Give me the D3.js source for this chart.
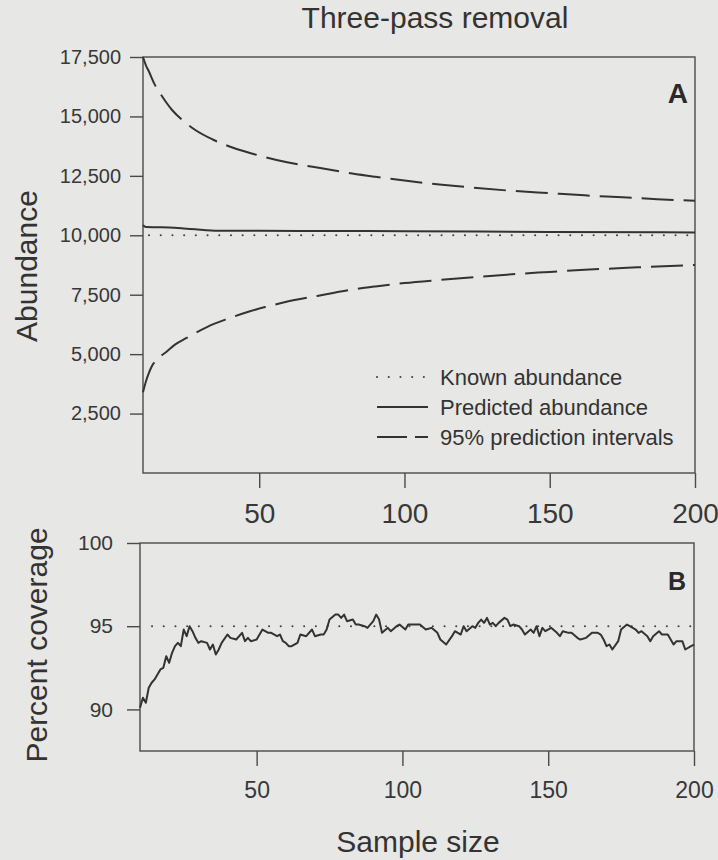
<!DOCTYPE html>
<html>
<head>
<meta charset="utf-8">
<script src="https://cdn.jsdelivr.net/npm/d3@7"></script>
<style>
  body { margin: 0; background: #e7e7e5; }
  svg { display: block; font-family: "Liberation Sans", Arial, sans-serif; }
  .axis path { display: none; }
  .axis line { stroke: #4a4a4a; stroke-width: 1.4px; }
  .axis text { fill: #383838; }
</style>
</head>
<body>
<div id="chart"></div>
<script>
// DATA

// panel A - abundance
var knownAbundance = 10000;

var predN   = [10, 11, 15, 19, 24, 28, 36, 50, 75, 100, 150, 200];
var predAbd = [10420, 10350, 10340, 10330, 10290, 10250, 10190, 10190, 10180, 10170, 10140, 10120];

var upperN   = [10, 11, 12, 14, 16, 20, 24, 28, 34, 41, 48, 56, 64, 71, 82, 90, 100, 112, 125, 137, 150, 162, 175, 187, 200];
var upperAbd = [17500, 17150, 16900, 16350, 15950, 15270, 14800, 14430, 14030, 13680, 13420, 13170, 12970, 12830, 12600, 12460, 12300, 12140, 11990, 11870, 11770, 11680, 11600, 11520, 11450];

var lowerN   = [10, 11, 12, 13, 15, 18, 21, 25, 32, 39, 46, 52, 59, 70, 81, 90, 100, 112, 125, 137, 150, 162, 175, 187, 200];
var lowerAbd = [3400, 3850, 4200, 4480, 4800, 5090, 5400, 5680, 6140, 6480, 6770, 6980, 7190, 7450, 7700, 7850, 7990, 8120, 8250, 8360, 8460, 8550, 8620, 8690, 8750];

// panel B - percent coverage
var knownCoverage = 95;

var covN = [10, 11, 12, 13, 14, 15, 16, 17, 18, 19, 20, 21, 22, 23, 24, 25, 26, 27, 28, 29,
    30, 31, 33, 34, 35, 36, 37, 38, 40, 41, 43, 45, 46, 47, 48, 50, 52, 54, 55, 57,
    58, 59, 60, 61, 62, 64, 65, 67, 69, 70, 72, 73, 74, 75, 77, 78, 79, 80, 81, 83,
    84, 85, 87, 88, 90, 91, 92, 93, 95, 96, 98, 99, 101, 102, 104, 106, 108, 110, 112, 113,
    115, 117, 118, 120, 121, 122, 124, 125, 126, 127, 128, 129, 130, 131, 132, 133, 135, 136, 137, 138,
    140, 141, 142, 144, 145, 146, 147, 148, 149, 151, 153, 154, 155, 157, 158, 160, 161, 163, 165, 167,
    168, 169, 170, 171, 172, 174, 175, 177, 178, 180, 181, 182, 184, 185, 186, 188, 189, 191, 192, 193,
    194, 196, 197, 199, 200];
var covPct = [90.1, 90.7, 90.4, 91.3, 91.6, 91.8, 92.1, 92.4, 92.5, 93.2, 92.8, 93.4, 93.8, 94.0, 93.8, 94.8, 94.4, 95.0, 94.7, 94.3,
    94.0, 94.1, 94.0, 93.6, 93.9, 93.3, 93.6, 94.0, 94.5, 94.3, 94.2, 94.6, 94.1, 94.3, 94.1, 94.2, 94.8, 94.6, 94.6, 94.4,
    94.5, 94.1, 94.0, 93.8, 93.8, 94.0, 94.5, 94.4, 94.8, 94.4, 94.5, 94.5, 94.8, 95.4, 95.7, 95.7, 95.5, 95.7, 95.3, 95.4,
    95.1, 95.1, 95.0, 94.9, 95.3, 95.7, 95.4, 94.6, 94.9, 94.7, 95.0, 95.1, 94.8, 95.1, 95.1, 95.1, 94.8, 94.9, 94.6, 94.2,
    93.9, 94.4, 94.7, 94.5, 95.0, 94.7, 95.0, 94.9, 95.2, 95.4, 95.2, 95.5, 95.1, 95.2, 95.0, 95.2, 95.5, 95.4, 95.0, 95.1,
    95.0, 94.8, 94.5, 94.8, 94.6, 95.0, 94.4, 94.9, 94.7, 94.9, 94.6, 94.4, 94.7, 94.6, 94.6, 94.3, 94.2, 94.3, 94.6, 94.6,
    94.5, 94.2, 93.8, 93.9, 93.6, 94.1, 94.8, 95.1, 95.0, 94.8, 94.6, 94.7, 94.4, 94.1, 94.4, 94.7, 94.5, 94.5, 94.2, 93.9,
    94.1, 94.1, 93.6, 93.8, 93.9];

// ticks
var abundTicks = [2500, 5000, 7500, 10000, 12500, 15000, 17500];
var coverTicks = [90, 95, 100];
var sizeTicks = [50, 100, 150, 200];

// legend
var legendLabels = ["Known abundance", "Predicted abundance", "95% prediction intervals"];
var legendDash = ["0.1,11.6", null, "30,8"];

// basic dimensions
var width = 718;
var height = 860;
var ink = "#333";

var svg = d3.select("#chart")
    .append("svg")
    .attr("width", width)
    .attr("height", height);

svg.append("rect")
    .attr("width", width)
    .attr("height", height)
    .attr("fill", "#e7e7e5");

// SCALES
var xA = d3.scaleLinear().domain([10, 200]).range([143, 695]);
var yA = d3.scaleLinear().domain([0, 17500]).range([473, 57]);
var xB = d3.scaleLinear().domain([10, 200]).range([140, 694]);
var yB = d3.scaleLinear().domain([87.5, 100]).range([751, 543]);

function zip(a, b) {
    return a.map(function(d, i) { return { n: d, v: b[i] }; });
}

var lineA = d3.line()
    .curve(d3.curveMonotoneX)
    .x(function(d) { return xA(d.n); })
    .y(function(d) { return yA(d.v); });

var lineB = d3.line()
    .x(function(d) { return xB(d.n); })
    .y(function(d) { return yB(d.v); });

// title
svg.append("text")
    .attr("x", 435)
    .attr("y", 28)
    .attr("text-anchor", "middle")
    .style("font-size", "30px")
    .attr("fill", ink)
    .text("Three-pass removal");

// ---------- PANEL A ----------
var gA = svg.append("g");

gA.append("rect")
    .attr("x", xA(10))
    .attr("y", yA(17500))
    .attr("width", xA(200) - xA(10))
    .attr("height", yA(0) - yA(17500))
    .attr("fill", "none")
    .attr("stroke", "#4a4a4a")
    .attr("stroke-width", 1.4);

gA.append("g")
    .attr("class", "axis")
    .attr("transform", "translate(" + xA(10) + ",0)")
    .call(d3.axisLeft(yA).tickValues(abundTicks).tickSize(13).tickPadding(9).tickFormat(d3.format(",")))
    .selectAll("text")
    .style("font-size", "20px");

gA.append("g")
    .attr("class", "axis")
    .attr("transform", "translate(0," + yA(0) + ")")
    .call(d3.axisBottom(xA).tickValues(sizeTicks).tickSize(15).tickPadding(15))
    .selectAll("text")
    .style("font-size", "28px");

// known abundance (dotted)
gA.append("line")
    .attr("x1", xA(10) + 6)
    .attr("x2", xA(200))
    .attr("y1", yA(knownAbundance))
    .attr("y2", yA(knownAbundance))
    .attr("stroke", "#444")
    .attr("stroke-width", 2)
    .attr("stroke-linecap", "round")
    .attr("stroke-dasharray", legendDash[0]);

// prediction intervals (dashed)
[zip(upperN, upperAbd), zip(lowerN, lowerAbd)].forEach(function(s) {
    gA.append("path")
        .attr("d", lineA(s))
        .attr("fill", "none")
        .attr("stroke", ink)
        .attr("stroke-width", 2)
        .attr("stroke-dasharray", "32,10");
});

// predicted abundance (solid)
gA.append("path")
    .attr("d", lineA(zip(predN, predAbd)))
    .attr("fill", "none")
    .attr("stroke", ink)
    .attr("stroke-width", 2);

gA.append("text")
    .attr("x", 688)
    .attr("y", 103)
    .attr("text-anchor", "end")
    .style("font-size", "28px")
    .style("font-weight", "bold")
    .attr("fill", "#2a2a2a")
    .text("A");

gA.append("text")
    .attr("transform", "translate(37,266) rotate(-90)")
    .attr("text-anchor", "middle")
    .style("font-size", "30px")
    .attr("fill", ink)
    .text("Abundance");

// legend
var legend = gA.selectAll(".legendRow")
    .data(legendLabels)
    .enter()
    .append("g")
    .attr("class", "legendRow")
    .attr("transform", function(d, i) { return "translate(377," + (377 + i * 30) + ")"; });

legend.append("line")
    .attr("x1", 0)
    .attr("x2", 51)
    .attr("stroke", function(d, i) { return i === 0 ? "#444" : ink; })
    .attr("stroke-width", 2)
    .attr("stroke-linecap", function(d, i) { return i === 0 ? "round" : "butt"; })
    .attr("stroke-dasharray", function(d, i) { return legendDash[i]; });

legend.append("text")
    .attr("x", 63)
    .attr("y", 8)
    .style("font-size", "22px")
    .attr("fill", ink)
    .text(function(d) { return d; });

// ---------- PANEL B ----------
var gB = svg.append("g");

gB.append("rect")
    .attr("x", xB(10))
    .attr("y", yB(100))
    .attr("width", xB(200) - xB(10))
    .attr("height", yB(87.5) - yB(100))
    .attr("fill", "none")
    .attr("stroke", "#4a4a4a")
    .attr("stroke-width", 1.4);

gB.append("g")
    .attr("class", "axis")
    .attr("transform", "translate(" + xB(10) + ",0)")
    .call(d3.axisLeft(yB).tickValues(coverTicks).tickSize(13).tickPadding(14))
    .selectAll("text")
    .style("font-size", "21px");

gB.append("g")
    .attr("class", "axis")
    .attr("transform", "translate(0," + yB(87.5) + ")")
    .call(d3.axisBottom(xB).tickValues(sizeTicks).tickSize(15).tickPadding(16))
    .selectAll("text")
    .style("font-size", "23px");

gB.append("line")
    .attr("x1", xB(10) + 12)
    .attr("x2", xB(200))
    .attr("y1", yB(knownCoverage))
    .attr("y2", yB(knownCoverage))
    .attr("stroke", "#444")
    .attr("stroke-width", 2)
    .attr("stroke-linecap", "round")
    .attr("stroke-dasharray", legendDash[0]);

gB.append("path")
    .attr("d", lineB(zip(covN, covPct)))
    .attr("fill", "none")
    .attr("stroke", ink)
    .attr("stroke-width", 2)
    .attr("stroke-linejoin", "round");

gB.append("text")
    .attr("x", 686)
    .attr("y", 590)
    .attr("text-anchor", "end")
    .style("font-size", "25px")
    .style("font-weight", "bold")
    .attr("fill", "#2a2a2a")
    .text("B");

gB.append("text")
    .attr("transform", "translate(47,645) rotate(-90)")
    .attr("text-anchor", "middle")
    .style("font-size", "30px")
    .attr("fill", ink)
    .text("Percent coverage");

svg.append("text")
    .attr("x", 418)
    .attr("y", 852)
    .attr("text-anchor", "middle")
    .style("font-size", "30px")
    .attr("fill", ink)
    .text("Sample size");
</script>
</body>
</html>
